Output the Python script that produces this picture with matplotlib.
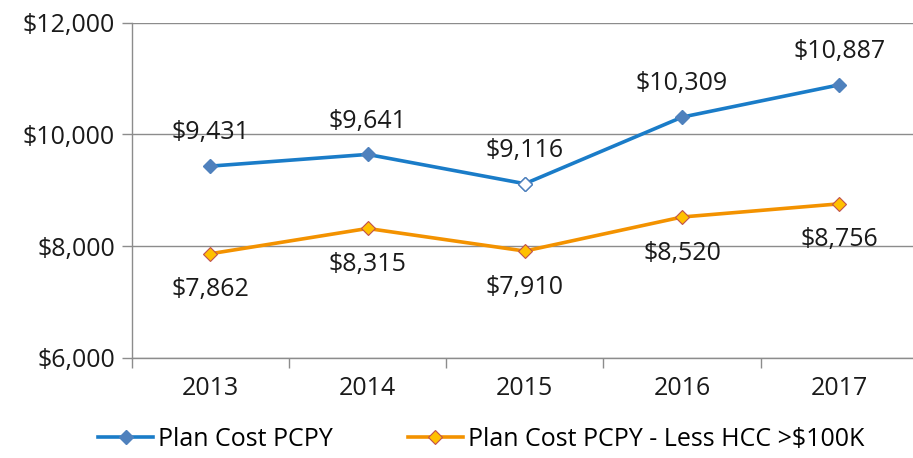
import numpy as np
import matplotlib
matplotlib.use('Agg')
import matplotlib.pyplot as plt

plt.rcParams['font.family'] = ['Open Sans', 'DejaVu Sans']

years = ['2013', '2014', '2015', '2016', '2017']
plan_cost = [9431, 9641, 9116, 10309, 10887]
plan_cost_less_hcc = [7862, 8315, 7910, 8520, 8756]
y_ticks = [6000, 8000, 10000, 12000]

fig = plt.figure(figsize=(9.13, 4.58), dpi=100)
ax = fig.add_axes([131.7 / 913, 1 - 357.7 / 458, (918 - 131.7) / 913, (357.7 - 22.7) / 458])

x = np.arange(len(years))
blue_line = '#1a7cc8'
blue_mark = '#4f81bd'
orange_line = '#f39200'
orange_fill = '#ffc000'
orange_edge = '#c0504d'

ax.plot(x, plan_cost, color=blue_line, lw=2.6, marker='D', ms=7.5,
        mfc=blue_mark, mec=blue_mark, label='Plan Cost PCPY', zorder=3)
# 2015 point is drawn hollow in the original
ax.plot(x[2], plan_cost[2], marker='D', ms=7, mfc='white', mec=blue_mark, mew=1, ls='none', zorder=4)
ax.plot(x, plan_cost_less_hcc, color=orange_line, lw=2.6, marker='D', ms=7.5,
        mfc=orange_fill, mec=orange_edge, mew=0.8, label='Plan Cost PCPY - Less HCC >$100K', zorder=3)

for xi, v in zip(x, plan_cost):
    ax.annotate(f'${v:,}', (xi, v), xytext=(0, 24), textcoords='offset points',
                ha='center', va='center', fontsize=18, color='#1a1a1a')
for xi, v in zip(x, plan_cost_less_hcc):
    ax.annotate(f'${v:,}', (xi, v), xytext=(0, -26), textcoords='offset points',
                ha='center', va='center', fontsize=18, color='#1a1a1a')

ax.set_xlim(-0.5, len(years) - 0.5)
ax.set_ylim(6000, 12000)
ax.set_yticks(y_ticks)
ax.set_yticklabels([f'${t:,}' for t in y_ticks])
ax.set_xticks(x)
ax.set_xticklabels(years)
ax.set_xticks(np.arange(-0.5, len(years)), minor=True)
ax.tick_params(axis='x', which='major', length=0, pad=13, labelsize=18, colors='#1a1a1a')
ax.tick_params(axis='x', which='minor', length=7, color='#8c8c8c', width=1)
ax.tick_params(axis='y', length=7, color='#8c8c8c', width=1, pad=5, labelsize=18, labelcolor='#1a1a1a')

ax.grid(axis='y', color='#8c8c8c', lw=1)
ax.set_axisbelow(True)
for s in ['top', 'right']:
    ax.spines[s].set_visible(False)
for s in ['left', 'bottom']:
    ax.spines[s].set_color('#8c8c8c')
    ax.spines[s].set_linewidth(1)

fig.legend(loc='center', bbox_to_anchor=(0.527, 0.04), ncol=2, frameon=False,
           fontsize=18, handlelength=2.2, handletextpad=0.2, columnspacing=3)

plt.savefig('out.png', dpi=100)
